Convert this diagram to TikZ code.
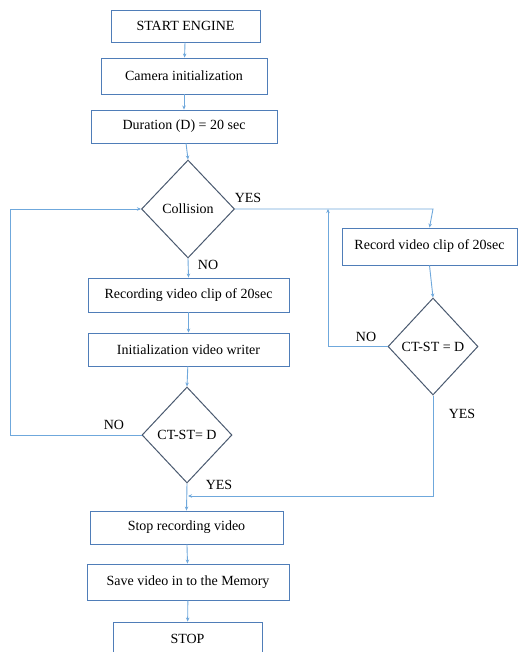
\documentclass[tikz,border=0pt]{standalone}
\usepackage{fontspec}
\setmainfont{Liberation Serif}
\usetikzlibrary{shapes.geometric,arrows.meta}
\definecolor{boxblue}{HTML}{4F7DB8}
\definecolor{linkblue}{HTML}{6FA8DC}
\definecolor{diagray}{HTML}{4A5A70}
\begin{document}
\begin{tikzpicture}[x=1pt,y=-1pt,
  stepbox/.style={draw=boxblue,line width=0.9pt,rectangle,inner sep=0pt,font=\fontsize{14}{16}\selectfont},
  decision/.style={draw=diagray,line width=1pt,diamond,inner sep=0pt,font=\fontsize{14}{16}\selectfont},
  link/.style={draw=linkblue,line width=0.9pt,-{Stealth[length=4pt,width=3.5pt]}},
  lbl/.style={font=\fontsize{14}{16}\selectfont,inner sep=0pt}]
\useasboundingbox (0,0) rectangle (519,652);
\fill[white] (0,0) rectangle (519,652);
\node[stepbox,minimum width=149,minimum height=32] (start) at (185.5,26) {START ENGINE};
\node[stepbox,minimum width=166,minimum height=36] (cam) at (184,76) {Camera initialization};
\node[stepbox,minimum width=186,minimum height=33] (dur) at (184,126.5) {Duration (D) = 20 sec};
\node[decision,minimum width=93,minimum height=98] (coll) at (188,209) {Collision};
\node[stepbox,minimum width=201,minimum height=34] (recording) at (188.5,295) {Recording video clip of 20sec};
\node[stepbox,minimum width=201,minimum height=33] (initw) at (188.5,349.5) {Initialization video writer};
\node[decision,minimum width=90,minimum height=96] (d1) at (187,435) {CT-ST= D};
\node[stepbox,minimum width=175,minimum height=37] (rec) at (429.5,246.5) {Record video clip of 20sec};
\node[decision,minimum width=90,minimum height=97] (d2) at (433,346.5) {CT-ST = D};
\node[stepbox,minimum width=193,minimum height=33] (stoprec) at (186.5,527.5) {Stop recording video};
\node[stepbox,minimum width=202,minimum height=36] (save) at (188,582) {Save video in to the Memory};
\node[stepbox,minimum width=149,minimum height=34] (stop) at (187.5,639) {STOP};
\coordinate (yescorner) at (433,209);
\coordinate (loopleft) at (10,435);
\coordinate (noright) at (328,346.5);
\coordinate (nojoin) at (328,209);
\coordinate (yesright) at (433,496);
\coordinate (join) at (188,496);
\draw[link] (start) -- (cam);
\draw[link] (cam) -- (dur);
\draw[link] (dur) -- (coll.north);
\draw[link] (coll.east) -- (yescorner) -- (rec.north);
\draw[link] (coll.south) -- (recording.north);
\draw[link] (recording) -- (initw);
\draw[link] (initw) -- (d1.north);
\draw[link] (d1.west) -- (loopleft) |- (coll.west);
\draw[link] (rec.south) -- (d2.north);
\draw[link] (d2.west) -- (noright) -- (nojoin);
\draw[link] (d2.south) -- (yesright) -- (join);
\draw[link] (d1.south) -- (stoprec.north);
\draw[link] (stoprec) -- (save);
\draw[link] (save) -- (stop);
\node[lbl] (yes1) at (248,198) {YES};
\node[lbl] (no1) at (208,265) {NO};
\node[lbl] (no2) at (114,425) {NO};
\node[lbl] (yes2) at (219,485) {YES};
\node[lbl] (no3) at (366,337) {NO};
\node[lbl] (yes3) at (462,414) {YES};
\end{tikzpicture}
\end{document}
